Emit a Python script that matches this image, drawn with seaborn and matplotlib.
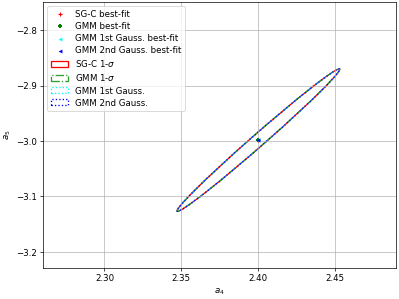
import numpy as np
import pandas as pd
import matplotlib
matplotlib.use("Agg")
import matplotlib.pyplot as plt
import seaborn as sns
from matplotlib.patches import Ellipse

# best-fit points (a4, a5)
fit_labels = ['SG-C best-fit', 'GMM best-fit', 'GMM 1st Gauss. best-fit', 'GMM 2nd Gauss. best-fit']
fit_a4 = [2.4003, 2.4003, 2.4003, 2.4003]
fit_a5 = [-2.9985, -2.9985, -2.9985, -2.9985]

# 1-sigma ellipses: centre, sigma_a4, sigma_a5, correlation
ell_labels = ['SG-C 1-$\\sigma$', 'GMM 1-$\\sigma$', 'GMM 1st Gauss.', 'GMM 2nd Gauss.']
ell_a4 = [2.4003, 2.4003, 2.4003, 2.4003]
ell_a5 = [-2.9985, -2.9985, -2.9985, -2.9985]
ell_sig4 = [0.0530, 0.0530, 0.0530, 0.0530]
ell_sig5 = [0.1285, 0.1285, 0.1285, 0.1285]
ell_rho = [0.9932, 0.9932, 0.9932, 0.9932]


def cov_ellipse(cx, cy, s1, s2, rho, **kw):
    cov = np.array([[s1**2, rho*s1*s2], [rho*s1*s2, s2**2]])
    vals, vecs = np.linalg.eigh(cov)
    order = vals.argsort()[::-1]
    vals, vecs = vals[order], vecs[:, order]
    angle = np.degrees(np.arctan2(vecs[1, 0], vecs[0, 0]))
    return Ellipse((cx, cy), 2*np.sqrt(vals[0]), 2*np.sqrt(vals[1]), angle=angle, fill=False, **kw)


plt.rcParams['font.family'] = ['DejaVu Sans']

DPI = 399 / 6.4
fig, ax = plt.subplots(figsize=(6.4, 4.8), dpi=DPI)
fig.subplots_adjust(left=0.108, right=0.9925, top=0.993, bottom=0.104)

df = pd.DataFrame({'a4': fit_a4, 'a5': fit_a5, 'label': fit_labels})
markers = ['+', 'P', '<', '<']
mcolors = ['red', 'green', 'cyan', 'blue']
for i in range(len(df)):
    sns.scatterplot(data=df.iloc[[i]], x='a4', y='a5', marker=markers[i], color=mcolors[i],
                    s=25 if markers[i] == '+' else 20, linewidth=1.3 if markers[i] == '+' else 0,
                    label=df['label'][i], ax=ax, zorder=3)

ecolors = ['red', 'tab:green', 'cyan', 'blue']
estyles = ['-', '-.', ':', ':']
for i in range(len(ell_labels)):
    ax.add_patch(cov_ellipse(ell_a4[i], ell_a5[i], ell_sig4[i], ell_sig5[i], ell_rho[i],
                             edgecolor=ecolors[i], linestyle=estyles[i], linewidth=1.5,
                             label=ell_labels[i]))

ax.set_xlim(2.260, 2.490)
ax.set_ylim(-3.229, -2.749)
ax.set_xticks([2.30, 2.35, 2.40, 2.45])
ax.set_yticks([-3.2, -3.1, -3.0, -2.9, -2.8])
ax.grid(True)
ax.set_xlabel('$a_4$')
ax.set_ylabel('$a_5$')
ax.legend(loc='upper left', labelspacing=0.36)

plt.savefig('out.png', dpi=DPI)
